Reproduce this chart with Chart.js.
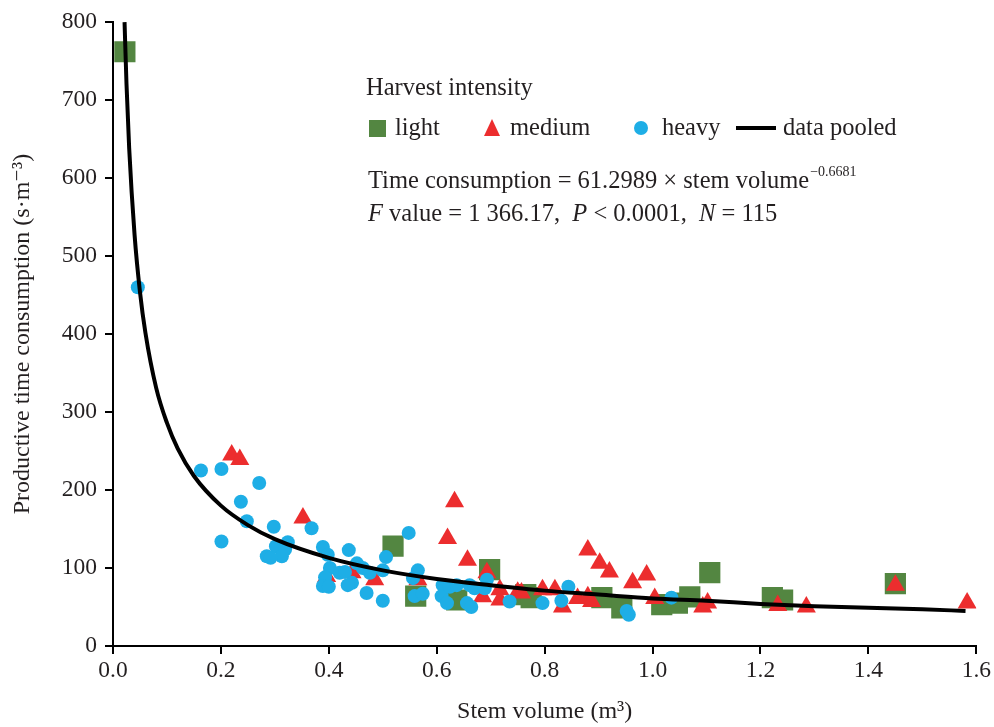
<!DOCTYPE html>
<html>
<head>
<meta charset="utf-8">
<script src="https://cdn.jsdelivr.net/npm/chart.js@4"></script>
<style>
  body { margin: 0; background: #fff; }
  canvas { display: block; }
</style>
</head>
<body>
<canvas id="myChart" width="994" height="727"></canvas>
<script>
/* DATA */
const lightX = [0.022, 0.519, 0.561, 0.637, 0.698, 0.765, 0.775, 0.906, 0.943, 1.017, 1.046, 1.069, 1.106, 1.222, 1.241, 1.45];
const lightY = [762, 128, 64, 59, 98, 66, 62, 62, 49, 53, 55, 63, 94, 62, 59, 80];

const mediumX = [0.220, 0.235, 0.352, 0.396, 0.443, 0.485, 0.565, 0.620, 0.633, 0.657, 0.685, 0.693, 0.717, 0.717, 0.750, 0.757, 0.796, 0.819, 0.833, 0.861, 0.880, 0.887, 0.880, 0.902, 0.920, 0.963, 0.989, 1.004, 1.093, 1.102, 1.232, 1.285, 1.450, 1.583];
const mediumY = [245, 239, 164, 89, 94, 85, 85, 138, 185, 110, 63, 94, 72, 59, 69, 68, 72, 72, 50, 61, 63, 57, 123, 106, 95, 81, 91, 61, 50, 55, 52, 50, 78, 55];

const heavyX = [0.046, 0.163, 0.201, 0.271, 0.237, 0.248, 0.201, 0.298, 0.324, 0.302, 0.319, 0.313, 0.285, 0.292, 0.368, 0.389, 0.398, 0.402, 0.393, 0.389, 0.400, 0.437, 0.420, 0.430, 0.452, 0.463, 0.476, 0.443, 0.435, 0.470, 0.500, 0.506, 0.500, 0.548, 0.565, 0.556, 0.559, 0.574, 0.611, 0.609, 0.619, 0.624, 0.637, 0.661, 0.670, 0.656, 0.664, 0.693, 0.689, 0.735, 0.796, 0.831, 0.844, 0.952, 0.956, 1.035];
const heavyY = [460, 225, 227, 209, 185, 160, 134, 153, 133, 128, 124, 115, 115, 113, 151, 127, 117, 100, 88, 77, 76, 123, 94, 95, 106, 100, 94, 81, 78, 68, 58, 114, 97, 145, 97, 87, 64, 67, 78, 64, 55, 76, 78, 78, 74, 55, 50, 85, 74, 57, 55, 58, 76, 45, 40, 62];

/* pooled curve */
const curveX = [0.0214, 0.025, 0.03, 0.04, 0.05, 0.06, 0.08, 0.1, 0.12, 0.15, 0.2, 0.25, 0.3, 0.4, 0.5, 0.6, 0.7, 0.8, 0.9, 1.0, 1.1, 1.2, 1.3, 1.4, 1.5, 1.58];
const curveY = [800, 721, 638, 527, 454, 402, 331, 286, 253, 218, 180, 155, 137, 113, 97, 86, 78, 71, 66, 61, 58, 54, 51, 49, 47, 45];

const xTicks = [0, 0.2, 0.4, 0.6, 0.8, 1.0, 1.2, 1.4, 1.6];
const yTicks = [0, 100, 200, 300, 400, 500, 600, 700, 800];

const GREEN = '#538641';
const RED = '#ec2d2e';
const BLUE = '#1eaee6';
const TEXT = '#231f20';
const FONT = '"Liberation Serif", "DejaVu Serif", serif';

function pts(xs, ys) {
  return xs.map(function(x, i) { return { x: x, y: ys[i] }; });
}

/* legend + equation drawn inside the plot */
const notes = {
  id: 'notes',
  afterDraw: function(chart) {
    const c = chart.ctx;
    c.save();
    c.fillStyle = TEXT;
    c.textBaseline = 'middle';
    c.font = '24.5px ' + FONT;
    c.fillText('Harvest intensity', 366, 89);

    // markers
    c.fillStyle = GREEN;
    c.fillRect(369, 120, 17, 17);
    c.fillStyle = RED;
    c.beginPath();
    c.moveTo(492, 119); c.lineTo(500, 136); c.lineTo(484, 136); c.closePath();
    c.fill();
    c.fillStyle = BLUE;
    c.beginPath(); c.arc(641, 128, 7, 0, Math.PI * 2); c.fill();
    c.strokeStyle = '#000';
    c.lineWidth = 4;
    c.beginPath(); c.moveTo(736, 128); c.lineTo(776, 128); c.stroke();

    c.fillStyle = TEXT;
    c.fillText('light', 395, 129);
    c.fillText('medium', 510, 129);
    c.fillText('heavy', 662, 129);
    c.fillText('data pooled', 783, 129);

    // equation
    let x = 368;
    const s1 = 'Time consumption = 61.2989 \u00d7 stem volume';
    c.fillText(s1, x, 182);
    x += c.measureText(s1).width + 1;
    c.font = '14px ' + FONT;
    c.fillText('\u22120.6681', x, 172);

    // statistics line, italic letters
    const parts = [['F', true], [' value = 1 366.17,  ', false], ['P', true], [' < 0.0001,  ', false], ['N', true], [' = 115', false]];
    x = 368;
    parts.forEach(function(p) {
      c.font = (p[1] ? 'italic ' : '') + '24.5px ' + FONT;
      c.fillText(p[0], x, 215);
      x += c.measureText(p[0]).width;
    });
    c.restore();
  }
};

const ctx = document.getElementById('myChart').getContext('2d');

const chart = new Chart(ctx, {
  type: 'scatter',
  data: {
    datasets: [{
      label: 'data pooled',
      type: 'line',
      data: pts(curveX, curveY),
      borderColor: '#000',
      borderWidth: 4,
      pointRadius: 0,
      fill: false,
      cubicInterpolationMode: 'monotone',
      order: 0,
    },
    {
      label: 'heavy',
      data: pts(heavyX, heavyY),
      backgroundColor: BLUE,
      borderWidth: 0,
      pointStyle: 'circle',
      pointRadius: 7,
      order: 1,
    },
    {
      label: 'medium',
      data: pts(mediumX, mediumY),
      backgroundColor: RED,
      borderWidth: 0,
      pointStyle: 'triangle',
      pointRadius: 11,
      order: 2,
    },
    {
      label: 'light',
      data: pts(lightX, lightY),
      backgroundColor: GREEN,
      borderWidth: 0,
      pointStyle: 'rect',
      pointRadius: 15,
      order: 3,
    }],
  },
  options: {
    responsive: false,
    animation: false,
    layout: { padding: { top: 22, right: 17, left: 0, bottom: 0 } },
    plugins: {
      legend: { display: false },
      tooltip: { enabled: false },
    },
    scales: {
      x: {
        type: 'linear',
        min: 0,
        max: 1.6,
        afterBuildTicks: function(s) { s.ticks = xTicks.map(function(v) { return { value: v }; }); },
        afterFit: function(s) { s.height = 81; },
        ticks: {
          color: TEXT,
          font: { family: FONT, size: 23.5 },
          padding: 3,
          maxRotation: 0,
          callback: function(v) { return v.toFixed(1); },
        },
        grid: { drawOnChartArea: false, drawTicks: true, tickLength: 8, color: '#000', lineWidth: 2 },
        border: { color: '#000', width: 2 },
        title: {
          display: true,
          text: 'Stem volume (m\u00b3)',
          color: TEXT,
          font: { family: FONT, size: 24 },
          padding: { top: 0, bottom: 1 },
        },
      },
      y: {
        min: 0,
        max: 800,
        afterBuildTicks: function(s) { s.ticks = yTicks.map(function(v) { return { value: v }; }); },
        afterFit: function(s) { s.width = 113; },
        ticks: {
          color: TEXT,
          font: { family: FONT, size: 23.5 },
          padding: 8,
        },
        grid: { drawOnChartArea: false, drawTicks: true, tickLength: 8, color: '#000', lineWidth: 2 },
        border: { color: '#000', width: 2 },
        title: {
          display: true,
          text: 'Productive time consumption (s\u00b7m\u207b\u00b3)',
          color: TEXT,
          font: { family: FONT, size: 24 },
          padding: { top: 8, bottom: 0 },
        },
      },
    },
  },
  plugins: [notes],
});
</script>
</body>
</html>
